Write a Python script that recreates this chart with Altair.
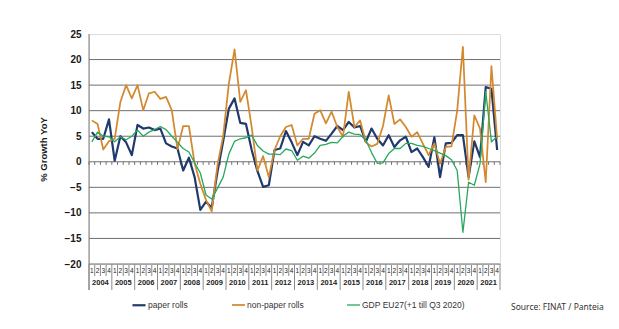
import altair as alt
import pandas as pd

years = [str(y) for y in range(2004, 2022)]
quarter_labels = ["1", "2", "3", "4"]

paper_rolls = [
    5.8, 4.5, 4.5, 8.3,
    0.2, 5.0, 3.8, 1.3,
    7.2, 6.5, 6.7, 6.2,
    6.5, 3.6, 3.0, 2.6,
    -1.7, 0.8, -3.0, -9.4,
    -7.8, -9.0, -2.0, 4.0,
    10.4, 12.4, 7.6, 7.4,
    2.3, -1.8, -4.9, -4.6,
    2.3, 2.6, 6.0, 3.8,
    1.3, 3.9, 3.2, 5.0,
    4.5, 4.1, 5.5, 7.0,
    6.2, 7.8, 6.7, 7.0,
    3.9, 6.5, 4.5, 3.2,
    5.2, 2.9, 4.2, 4.9,
    1.9, 2.6, 0.9, -1.0,
    4.8, -3.0, 3.6, 3.7,
    5.2, 5.2, -3.0, 4.0,
    0.9, 14.6, 14.3, 2.3,
]
non_paper_rolls = [
    8.1, 7.4, 2.4, 4.0,
    4.5, 11.7, 15.0, 12.4,
    15.0, 10.1, 13.4, 13.7,
    12.3, 12.7, 10.1, 2.5,
    7.0, 7.0, -0.3, -4.3,
    -7.5, -9.7, -0.7, 5.0,
    15.3, 22.0, 11.7, 14.0,
    6.8, -1.7, 1.1, -3.0,
    2.3, 5.0, 6.8, 7.2,
    3.2, 4.5, 4.5, 9.4,
    10.1, 7.5, 9.8, 6.8,
    4.9, 13.7, 6.8, 8.1,
    3.8, 3.0, 3.5, 7.0,
    13.0, 7.4, 8.3, 6.8,
    4.9, 5.8, 3.5, 1.3,
    3.6, -0.4, 2.9, 3.0,
    10.0, 22.5, -3.5, 9.1,
    6.5, -4.0, 18.7, 4.5,
]
gdp_eu27 = [
    3.9, 5.8, 5.0, 4.9,
    3.9, 4.9, 4.3, 5.0,
    6.2, 5.0, 5.8, 6.3,
    6.9, 6.3, 5.0, 3.8,
    2.6, 1.9, -0.2, -2.2,
    -6.5, -7.3, -5.2, -3.0,
    1.5, 4.0, 4.5, 4.7,
    5.2, 3.2, 2.1, 1.5,
    1.5, 1.4, 2.5, 2.2,
    0.3, 1.1, 0.7, 1.7,
    3.2, 3.4, 3.8, 3.7,
    5.0, 5.8, 5.4, 5.3,
    4.2, 1.8, -0.3, -0.2,
    1.6, 2.6, 2.6, 3.6,
    3.6, 3.2, 3.0, 2.6,
    2.2, 1.7, 1.2, 0.4,
    -1.7, -13.8, -4.0, -4.6,
    -0.4, 13.8, 3.9, 4.9,
]

series_names = ["paper rolls", "non-paper rolls", "GDP EU27(+1 till Q3 2020)"]
series_colors = ["#1F3A6B", "#D4892F", "#27A85E"]
series_widths = [2.2, 1.3, 1.6]
y_ticks = [-20, -15, -10, -5, 0, 5, 10, 15, 20, 25]
grid_values = [-20, -15, -10, -5, 5, 10, 15, 20]
y_title = "% Growth YoY"
source_text = "Source: FINAT / Panteia"

n_q = len(years) * 4

rows = []
for name, vals in zip(series_names, [paper_rolls, non_paper_rolls, gdp_eu27]):
    for i, v in enumerate(vals):
        rows.append({"series": name, "pos": i + 0.5, "value": v})
df = pd.DataFrame(rows)

bounds = pd.DataFrame({"b": list(range(n_q + 1))})
bounds["year"] = bounds["b"] % 4 == 0
bounds["zt"] = 0.0
bounds["zb"] = -0.6
qlab = pd.DataFrame({"pos": [i + 0.5 for i in range(n_q)],
                     "label": [quarter_labels[i % 4] for i in range(n_q)]})
ylab = pd.DataFrame({"pos": [4 * j + 2 for j in range(len(years))], "label": years})
grid_df = pd.DataFrame({"value": grid_values})
zero_df = pd.DataFrame({"value": [0]})

W, H = 411, 230
xs = alt.Scale(domain=[0, n_q], nice=False, zero=False)
ys = alt.Scale(domain=[-20, 25], nice=False, zero=False)
FONT = "Liberation Sans"

y_axis = alt.Axis(values=y_ticks, grid=False, domain=False, ticks=False,
                  labelFont=FONT, labelFontSize=10, labelFontWeight="bold",
                  labelColor="#1a1a1a", labelPadding=8,
                  title=y_title, titleFont=FONT, titleFontSize=9.5,
                  titleFontWeight="bold", titleColor="#1a1a1a", titlePadding=16)

grid = alt.Chart(grid_df).mark_rule(color="#6f6f6f", strokeWidth=1).encode(
    y=alt.Y("value:Q", scale=ys, axis=y_axis)
)

zero_line = alt.Chart(zero_df).mark_rule(color="#6f6f6f", strokeWidth=1).encode(
    y=alt.Y("value:Q", scale=ys, axis=y_axis)
)

zero_ticks = alt.Chart(bounds).mark_rule(color="#6f6f6f", strokeWidth=1).encode(
    x=alt.X("b:Q", scale=xs, axis=None),
    y=alt.Y("zt:Q", scale=ys, axis=y_axis),
    y2=alt.Y2("zb:Q"),
)

left_line = alt.Chart(pd.DataFrame({"b": [0]})).mark_rule(color="#7a7a7a", strokeWidth=1).encode(
    x=alt.X("b:Q", scale=xs, axis=None),
    y=alt.value(0),
    y2=alt.value(256),
)

sep_q = alt.Chart(bounds).transform_filter("!datum.year").mark_rule(color="#8a8a8a", strokeWidth=1).encode(
    x=alt.X("b:Q", scale=xs, axis=None),
    y=alt.value(231),
    y2=alt.value(242),
)
sep_y = alt.Chart(bounds).transform_filter("datum.year").mark_rule(color="#8a8a8a", strokeWidth=1).encode(
    x=alt.X("b:Q", scale=xs, axis=None),
    y=alt.value(230),
    y2=alt.value(256),
)

q_text = alt.Chart(qlab).mark_text(fontSize=6.5, font=FONT, color="#222222", baseline="middle").encode(
    x=alt.X("pos:Q", scale=xs, axis=None),
    y=alt.value(236.5),
    text="label:N",
)
y_text = alt.Chart(ylab).mark_text(fontSize=7.5, font=FONT, fontWeight="bold", color="#222222",
                                   baseline="middle").encode(
    x=alt.X("pos:Q", scale=xs, axis=None),
    y=alt.value(249),
    text="label:N",
)

lines = alt.Chart(df).mark_line(strokeJoin="round").encode(
    x=alt.X("pos:Q", scale=xs, axis=None),
    y=alt.Y("value:Q", scale=ys, axis=y_axis),
    color=alt.Color("series:N",
                    scale=alt.Scale(domain=series_names, range=series_colors),
                    legend=alt.Legend(orient="none", legendX=42, legendY=263,
                                      direction="horizontal", title=None,
                                      symbolType="stroke", symbolSize=170,
                                      symbolStrokeWidth=2, labelFont=FONT,
                                      labelFontSize=8.5, labelColor="#333333",
                                      columnPadding=40, labelOffset=1)),
    strokeWidth=alt.StrokeWidth("series:N",
                                scale=alt.Scale(domain=series_names, range=series_widths),
                                legend=None),
    detail="series:N",
)

source = alt.Chart(pd.DataFrame({"t": [source_text]})).mark_text(
    fontSize=8.5, font="Noto Sans", color="#333333", align="left", baseline="middle"
).encode(x=alt.value(422), y=alt.value(273), text="t:N")

chart = alt.layer(
    grid, zero_line, zero_ticks, left_line, sep_q, sep_y, q_text, y_text, lines, source
).properties(
    width=W, height=H,
    autosize=alt.AutoSizeParams(type="none"),
    padding={"left": 89, "top": 34, "right": 119, "bottom": 65},
).configure_view(stroke="#cccccc", strokeWidth=1).configure(background="white")

chart.save("out.html", embed_options={"renderer": "svg", "actions": False})
